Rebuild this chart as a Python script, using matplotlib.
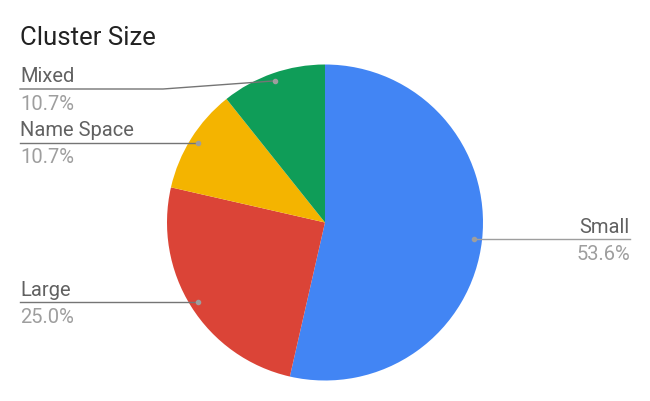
import matplotlib
matplotlib.use("Agg")
import matplotlib.pyplot as plt
import numpy as np

title = "Cluster Size"
categories = ["Small", "Large", "Name Space", "Mixed"]
values = [15, 7, 3, 3]
colors = ["#4285F4", "#DB4437", "#F4B400", "#0F9D58"]

W, H = 650, 402
fig = plt.figure(figsize=(W / 100, H / 100), dpi=100)
ax = fig.add_axes([0, 0, 1, 1])
plt.rcParams['font.family'] = ['Roboto', 'DejaVu Sans']

cx, cy, r = 325, H - 223.5, 158
wedges, _ = ax.pie(values, colors=colors, startangle=90, counterclock=False,
                   center=(cx, cy), radius=r, wedgeprops=dict(linewidth=0))
ax.set_xlim(0, W)
ax.set_ylim(0, H)
ax.set_aspect('equal')
ax.axis('off')

total = sum(values)
label_color = "#616161"
pct_color = "#9e9e9e"
line_color = "#9e9e9e"
fs = 14.5

for i, (w, cat, v) in enumerate(zip(wedges, categories, values)):
    mid = np.deg2rad((w.theta1 + w.theta2) / 2)
    dx, dy = cx + 0.95 * r * np.cos(mid), cy + 0.95 * r * np.sin(mid)
    pct = f"{100 * v / total:.1f}%"
    ax.plot([dx], [dy], 'o', color=line_color, ms=3, zorder=5)
    if np.cos(mid) > 0:
        lx = 630
        ly = dy
        ax.plot([dx, lx], [ly, ly], color=line_color, lw=1)
        ax.text(lx, ly + 13, cat, ha='right', va='center', color=label_color, fontsize=fs)
        ax.text(lx, ly - 14, pct, ha='right', va='center', color=pct_color, fontsize=fs)
    else:
        lx = 20
        ly = dy
        if cat == "Mixed":
            ly = H - 90
            ax.plot([lx, 163, dx], [ly, ly, dy], color="#757575", lw=1)
        else:
            ax.plot([lx, dx], [ly, ly], color="#757575", lw=1)
        ax.text(lx, ly + 13, cat, ha='left', va='center', color=label_color, fontsize=fs)
        ax.text(lx, ly - 14, pct, ha='left', va='center', color=pct_color, fontsize=fs)

fig.text(20 / W, 1 - 38 / H, title, ha='left', va='center', fontsize=18.5, color="#212121")
fig.savefig("out.png", dpi=100, facecolor="white")
